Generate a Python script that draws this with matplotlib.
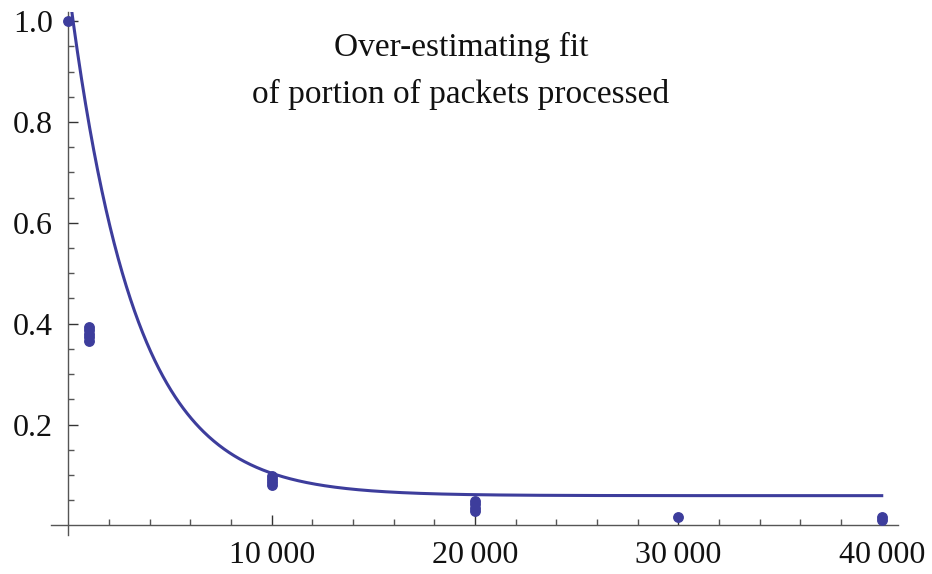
import numpy as np
import matplotlib
matplotlib.use("Agg")
import matplotlib.pyplot as plt
from matplotlib.ticker import FixedLocator

# Measured portion of packets processed
pkt_x = [0,
         1000, 1000, 1000, 1000, 1000,
         10000, 10000, 10000, 10000,
         20000, 20000, 20000, 20000,
         30000,
         40000, 40000]
pkt_y = [1.0,
         0.394, 0.387, 0.380, 0.373, 0.366,
         0.098, 0.092, 0.086, 0.080,
         0.049, 0.042, 0.035, 0.029,
         0.016,
         0.016, 0.010]

# Exponential fit  y = fit_a + fit_b * exp(-x / fit_c)
fit_a = 0.059
fit_b = 1.013
fit_c = 3200.0
fit_xmax = 40000

x_ticks = [10000, 20000, 30000, 40000]
x_tick_labels = ["10\u2009000", "20\u2009000", "30\u2009000", "40\u2009000"]
y_ticks = [0.2, 0.4, 0.6, 0.8, 1.0]
y_tick_labels = ["0.2", "0.4", "0.6", "0.8", "1.0"]

title_lines = "Over-estimating fit\nof portion of packets processed"

color = "#3d3d9c"
serif = ["Liberation Serif", "DejaVu Serif"]

fig = plt.figure(figsize=(9.32, 5.74), dpi=100)
ax = fig.add_axes([51 / 932, 1 - 535 / 574, (898 - 51) / 932, (535 - 12) / 574])

ax.set_xlim(-850, 40800)
ax.set_ylim(-0.019, 1.018)

xs = np.linspace(0, fit_xmax, 800)
ax.plot(xs, fit_a + fit_b * np.exp(-xs / fit_c), color=color, lw=2.2, zorder=3)
ax.plot(pkt_x, pkt_y, "o", color=color, ms=6.8, mec=color, clip_on=False, zorder=4)

for side in ("top", "right"):
    ax.spines[side].set_visible(False)
ax.spines["left"].set_position(("data", 0))
ax.spines["bottom"].set_position(("data", 0))
for side in ("left", "bottom"):
    ax.spines[side].set_color("#555555")
    ax.spines[side].set_linewidth(1.0)

ax.xaxis.set_major_locator(FixedLocator(x_ticks))
ax.set_xticklabels(x_tick_labels)
ax.xaxis.set_minor_locator(FixedLocator(
    [v for v in range(2000, 40001, 2000) if v not in x_ticks]))
ax.yaxis.set_major_locator(FixedLocator(y_ticks))
ax.set_yticklabels(y_tick_labels)
ax.yaxis.set_minor_locator(FixedLocator(
    [round(v, 2) for v in np.arange(0.05, 1.0, 0.05) if round(v, 2) not in y_ticks]))

ax.tick_params(axis="both", which="major", direction="in", length=7,
               width=1.0, color="#333333", labelsize=23, pad=11)
ax.tick_params(axis="both", which="minor", direction="in", length=4.5,
               width=1.0, color="#555555")
for lab in ax.get_xticklabels() + ax.get_yticklabels():
    lab.set_family(serif)
    lab.set_color("#111111")

fig.text(461 / 932, 1 - 71 / 574, title_lines, ha="center", va="center",
         family=serif, fontsize=24, linespacing=1.7, color="#111111")

fig.savefig("out.png", dpi=100, facecolor="white")
